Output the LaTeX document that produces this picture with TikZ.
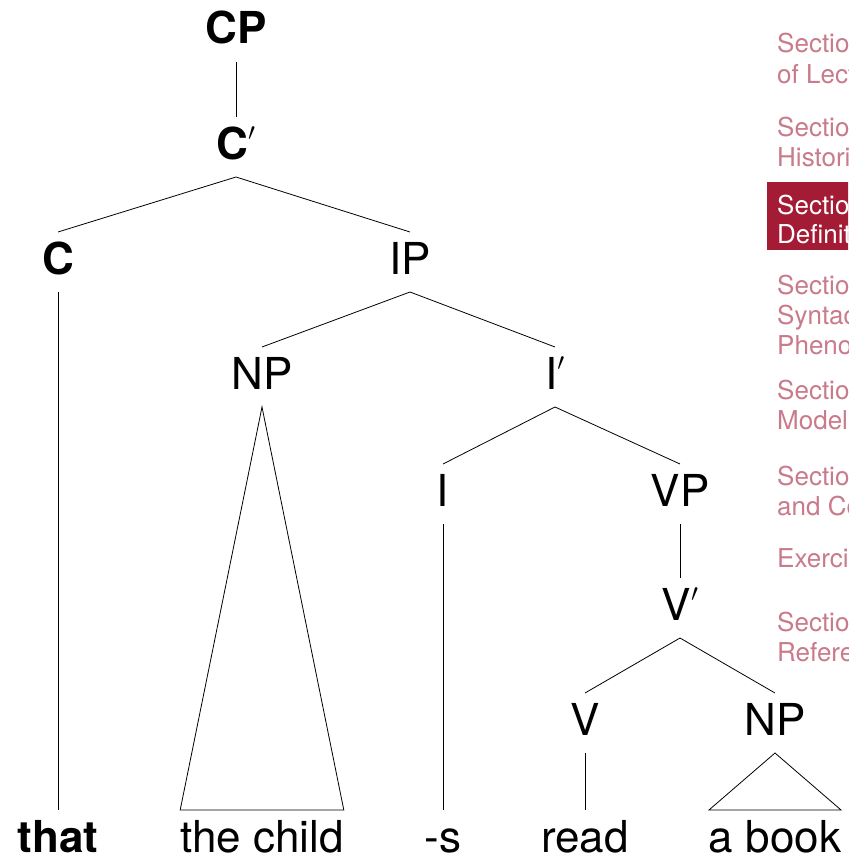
\documentclass[tikz,border=0pt]{standalone}
\usepackage{fontspec}
\setmainfont{TeX Gyre Heros}
\definecolor{navfaded}{HTML}{C97A8B}
\definecolor{navactive}{HTML}{A31B35}
% bar-level prime, raised to the cap line
\newcommand{\barprime}{\raisebox{0.22em}{$'$}}
\begin{document}
\begin{tikzpicture}[x=1pt,y=-1pt,
  treelabel/.style={font=\fontsize{44}{50}\selectfont, inner sep=0pt, outer sep=0pt,
    text height=42pt, text depth=18pt, anchor=base},
  branch/.style={line width=0.8pt, black},
  navtext/.style={font=\fontsize{26}{30}\selectfont, anchor=base west, inner sep=0pt, text=navfaded},
  navbar/.style={fill=navactive, draw=none}]
\useasboundingbox (0,0) rectangle (848,856);
\clip (0,0) rectangle (848,856);

% tree labels
\node[treelabel] (cp)  at (236,44)  {\textbf{CP}};
\node[treelabel] (cb)  at (236,159) {\textbf{C}\barprime};
\node[treelabel] (c)   at (58,274)  {\textbf{C}};
\node[treelabel] (ip)  at (410,274) {IP};
\node[treelabel] (np)  at (262,389) {NP};
\node[treelabel] (ib)  at (555,389) {I\barprime};
\node[treelabel] (i)   at (443,506) {I};
\node[treelabel] (vp)  at (680,506) {VP};
\node[treelabel] (vb)  at (680,620) {V\barprime};
\node[treelabel] (v)   at (585,735) {V};
\node[treelabel] (np2) at (775,735) {NP};

% leaves
\node[treelabel] (that)  at (58,852)  {\textbf{that}};
\node[treelabel] (child) at (262,852) {the child};
\node[treelabel] (s)     at (443,852) {-s};
\node[treelabel] (read)  at (585,852) {read};
\node[treelabel] (book)  at (775,852) {a book};

% branches
\draw[branch] (cp.south) -- (cb.north);
\draw[branch] (c.north) -- (cb.south) -- (ip.north);
\draw[branch] (c.south) -- (that.north);
\draw[branch] (np.north) -- (ip.south) -- (ib.north);
\draw[branch] (child.north west) -- (np.south) -- (child.north east) -- cycle;
\draw[branch] (i.north) -- (ib.south) -- (vp.north);
\draw[branch] (i.south) -- (s.north);
\draw[branch] (vp.south) -- (vb.north);
\draw[branch] (v.north) -- (vb.south) -- (np2.north);
\draw[branch] (v.south) -- (read.north);
\draw[branch] (book.north west) -- (np2.south) -- (book.north east) -- cycle;

% section navigation
\node[navbar, minimum width=90pt, minimum height=68pt, anchor=north west] (active) at (767,182) {};
\node[navtext] (s1a) at (777,53)  {Section 1: Goals};
\node[navtext] (s1b) at (777,84)  {of Lecture};
\node[navtext] (s2a) at (777,136) {Section 2:};
\node[navtext] (s2b) at (777,166) {Historical};
\node[navtext, text=white] (s3a) at (777,214) {Section 3:};
\node[navtext, text=white] (s3b) at (777,243) {Definition};
\node[navtext] (s4a) at (777,294) {Section 4:};
\node[navtext] (s4b) at (777,324) {Syntactic};
\node[navtext] (s4c) at (777,354) {Phenomena};
\node[navtext] (s5a) at (777,399) {Section 5:};
\node[navtext] (s5b) at (777,429) {Models};
\node[navtext] (s6a) at (777,485) {Section 6:};
\node[navtext] (s6b) at (777,515) {and Comparison};
\node[navtext] (s7)  at (777,567) {Exercises};
\node[navtext] (s8a) at (777,631) {Section 8:};
\node[navtext] (s8b) at (777,661) {References};
\end{tikzpicture}
\end{document}
